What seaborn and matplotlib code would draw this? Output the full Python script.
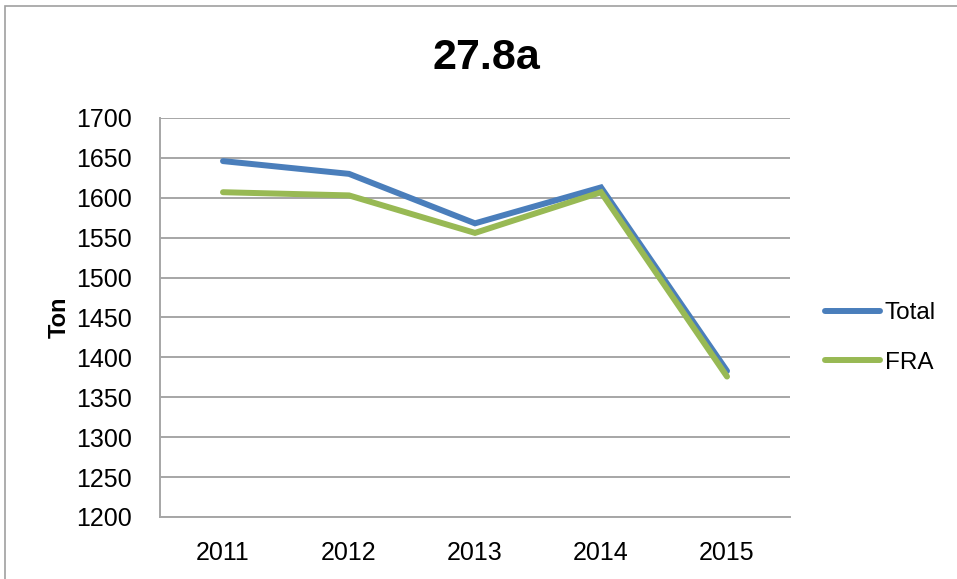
import matplotlib
matplotlib.use("Agg")
import matplotlib.pyplot as plt
import matplotlib.patches as mpatches
import seaborn as sns
import pandas as pd

years = ["2011", "2012", "2013", "2014", "2015"]
total = [1646, 1630, 1568, 1613, 1383]
fra = [1607, 1603, 1556, 1607, 1376]
series_names = ["Total", "FRA"]
colors = ["#4A7EBB", "#98B954"]
yticks = [1200, 1250, 1300, 1350, 1400, 1450, 1500, 1550, 1600, 1650, 1700]

df = pd.DataFrame({
    "Year": years * 2,
    "Value": total + fra,
    "Series": [series_names[0]] * len(years) + [series_names[1]] * len(years),
})

sns.set_theme(style="white")
plt.rcParams["font.family"] = ["Liberation Sans", "DejaVu Sans"]
plt.rcParams["text.color"] = "black"
plt.rcParams["axes.labelcolor"] = "black"

fig = plt.figure(figsize=(9.57, 5.79), dpi=100)
ax = fig.add_axes([160/957, 1-517/579, (790-160)/957, (517-118)/579])

sns.lineplot(data=df, x="Year", y="Value", hue="Series", palette=colors,
             linewidth=4.3, ax=ax, sort=False, legend=True)
for line in ax.get_lines():
    line.set_solid_capstyle("round")
    line.set_solid_joinstyle("miter")

ax.set_xlim(-0.5, 4.5)
ax.set_ylim(1200, 1700)
ax.set_yticks(yticks)
ax.yaxis.grid(True, color="#a6a6a6", linewidth=1.4)
ax.set_axisbelow(True)
for s in ["top", "right"]:
    ax.spines[s].set_visible(False)
for s in ["left", "bottom"]:
    ax.spines[s].set_color("#a6a6a6")
    ax.spines[s].set_linewidth(1.4)
ax.tick_params(axis="both", length=0, labelsize=18, colors="black")
ax.tick_params(axis="y", pad=20)
ax.tick_params(axis="x", pad=17)
ax.set_xlabel("")
ax.set_ylabel("Ton", fontsize=17, fontweight="bold", labelpad=4, color="black")

fig.text(486/957, 1-58/579, "27.8a", fontsize=31, fontweight="bold",
         ha="center", va="center", color="black")

handles, labels = ax.get_legend_handles_labels()
for h in handles:
    h.set_linewidth(4.3)
    h.set_solid_capstyle("round")
leg = ax.legend(handles, labels, loc="center left",
                bbox_to_anchor=(825/957, 1-338/579), bbox_transform=fig.transFigure,
                frameon=False, fontsize=17.5, handlelength=2.25, handletextpad=0.2,
                labelspacing=1.15, borderpad=0, borderaxespad=0)
for t in leg.get_texts():
    t.set_color("black")

fig.patches.append(mpatches.Rectangle((4.5/957, -0.1), 1.2, 1.1 - 6/579,
                                      transform=fig.transFigure, fill=False,
                                      edgecolor="#a0a0a0", linewidth=1.2))

fig.savefig("out.png", dpi=100)
